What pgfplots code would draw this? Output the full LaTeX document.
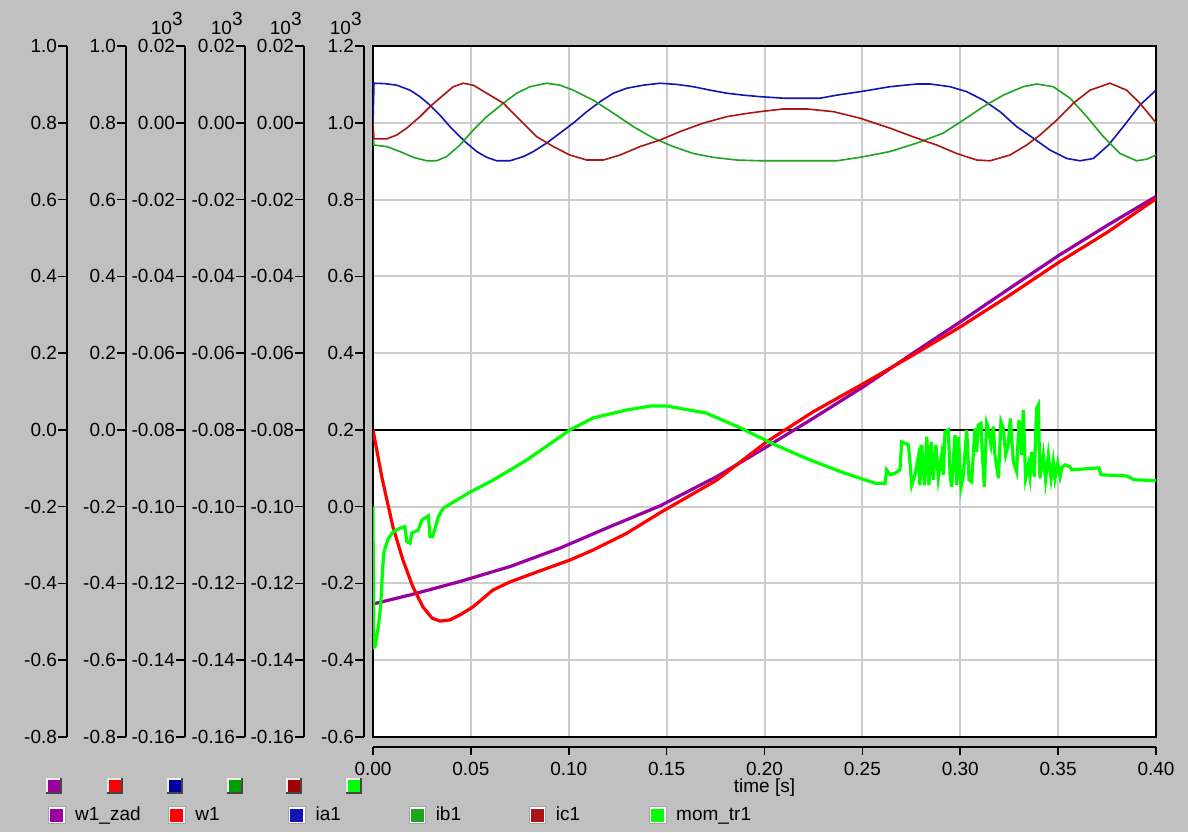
\documentclass[border=0pt]{standalone}
\usepackage{fontspec}
\setmainfont{Liberation Sans}
\usepackage{pgfplots}
\pgfplotsset{compat=1.18}

\definecolor{bg}{RGB}{192,192,192}
\definecolor{cwzad}{RGB}{153,0,160}
\definecolor{cw}{RGB}{255,0,0}
\definecolor{cia}{RGB}{20,20,180}
\definecolor{cib}{RGB}{30,165,30}
\definecolor{cic}{RGB}{170,20,20}
\definecolor{cmom}{RGB}{0,255,0}
\definecolor{sqia}{RGB}{0,0,160}
\definecolor{sqib}{RGB}{0,160,0}
\definecolor{sqic}{RGB}{160,0,0}
\definecolor{gridc}{RGB}{205,205,205}

\newcommand\lbl{\fontsize{9.5}{11}\selectfont}

% one vertical scale on the left
\pgfplotsset{
  scaleax/.style={
    scale only axis, width=1pt, height=345.5pt, anchor=south west,
    xmin=0, xmax=1, axis x line=none, axis y line=left,
    axis line style={-, black, line width=0.8pt},
    tick align=outside, major tick length=4.5pt,
    tick style={black, line width=0.8pt},
    scaled ticks=false,
    yticklabel style={font=\lbl, xshift=3pt, /pgf/number format/.cd, fixed, fixed zerofill, precision=#1, assume math mode=true},
  },
}

\begin{document}
\begin{tikzpicture}
\useasboundingbox (0,0) rectangle (594pt,416pt);
\fill[bg] (0,0) rectangle (594pt,416pt);

% left scales
\begin{axis}[scaleax=1, at={(33.5pt,47.5pt)}, ymin=-0.8, ymax=1.0,
  ytick={-0.8,-0.6,-0.4,-0.2,0,0.2,0.4,0.6,0.8,1.0}]
\end{axis}
\begin{axis}[scaleax=1, at={(63pt,47.5pt)}, ymin=-0.8, ymax=1.0,
  ytick={-0.8,-0.6,-0.4,-0.2,0,0.2,0.4,0.6,0.8,1.0}]
\end{axis}
\begin{axis}[scaleax=2, at={(92.5pt,47.5pt)}, ymin=-0.16, ymax=0.02,
  ytick={-0.16,-0.14,-0.12,-0.10,-0.08,-0.06,-0.04,-0.02,0,0.02}]
\end{axis}
\begin{axis}[scaleax=2, at={(122.5pt,47.5pt)}, ymin=-0.16, ymax=0.02,
  ytick={-0.16,-0.14,-0.12,-0.10,-0.08,-0.06,-0.04,-0.02,0,0.02}]
\end{axis}
\begin{axis}[scaleax=2, at={(152pt,47.5pt)}, ymin=-0.16, ymax=0.02,
  ytick={-0.16,-0.14,-0.12,-0.10,-0.08,-0.06,-0.04,-0.02,0,0.02}]
\end{axis}
\begin{axis}[scaleax=1, at={(182pt,47.5pt)}, ymin=-0.6, ymax=1.2,
  ytick={-0.6,-0.4,-0.2,0,0.2,0.4,0.6,0.8,1.0,1.2}]
\end{axis}

% main plot
\begin{axis}[
  at={(186.5pt,47.5pt)}, anchor=south west,
  scale only axis, width=391.5pt, height=345.5pt,
  xmin=0, xmax=0.4, ymin=-0.6, ymax=1.2,
  axis background/.style={fill=white},
  xtick={0,0.05,0.1,0.15,0.2,0.25,0.3,0.35,0.4},
  ytick={-0.6,-0.4,-0.2,0,0.2,0.4,0.6,0.8,1.0,1.2},
  xticklabels={}, yticklabels={},
  major tick length=0pt,
  grid=major, grid style={gridc, line width=1pt},
  axis line style={black, line width=1pt},
  extra y ticks={0.2}, extra y tick labels={},
  extra y tick style={grid style={black, line width=0.8pt}},
  legend columns=6, legend cell align=left,
  legend style={at={(-0.4151,-0.1129)}, anchor=west, draw=none, fill=none,
    inner sep=0pt, outer sep=0pt, font=\lbl, /tikz/column sep=0pt,
    nodes={inner sep=0pt, outer sep=0pt}},
  legend image code/.code={
    \fill[#1] (0.5pt,-3.25pt) rectangle (7pt,3.25pt);
    \draw[white, line width=0.8pt] (0.1pt,-3.65pt) rectangle (7.4pt,3.65pt);
    \draw[gray!70, line width=0.3pt] (-0.4pt,-4.15pt) rectangle (7.9pt,4.15pt);
  },
]
\addplot[color=cwzad, line width=1.6pt] coordinates {
(0,-0.2535)(0.0189,-0.230)(0.0444,-0.195)(0.07,-0.156)(0.0955,-0.108)
(0.1211,-0.052)(0.1466,0.002)(0.1755,0.078)(0.2011,0.156)(0.2248,0.230)
(0.2507,0.313)(0.2759,0.400)(0.3002,0.482)(0.3253,0.569)(0.3508,0.656)
(0.3755,0.734)(0.4,0.808)};
\addlegendentry{\hspace{5pt}\makebox[46.5pt][l]{w1\_zad}}
\addplot[color=cw, line width=1.6pt] coordinates {
(0,0.2)(0.0046,0.075)(0.0102,-0.053)(0.0153,-0.139)(0.0204,-0.209)
(0.0255,-0.261)(0.0301,-0.290)(0.0342,-0.298)(0.0393,-0.295)(0.0444,-0.282)
(0.0511,-0.261)(0.0613,-0.217)(0.07,-0.196)(0.0838,-0.170)(0.1006,-0.139)
(0.1124,-0.113)(0.1297,-0.069)(0.1466,-0.016)(0.1755,0.069)(0.2011,0.169)
(0.2248,0.247)(0.2507,0.321)(0.2759,0.395)(0.3002,0.469)(0.3253,0.551)
(0.3508,0.638)(0.3755,0.716)(0.4,0.802)};
\addlegendentry{\hspace{5pt}\makebox[46.5pt][l]{w1}}
\addplot[color=cia, line width=0.8pt] coordinates {
(0,1.0)(0.0005,1.103)(0.006,1.102)(0.0121,1.098)(0.0189,1.085)(0.024,1.068)
(0.0291,1.046)(0.0342,1.020)(0.0393,0.990)(0.0444,0.964)(0.0479,0.947)
(0.053,0.925)(0.0581,0.910)(0.0632,0.901)(0.07,0.901)(0.0768,0.912)
(0.0819,0.925)(0.0887,0.947)(0.0955,0.973)(0.1023,0.999)(0.1092,1.029)
(0.116,1.055)(0.1228,1.077)(0.1296,1.090)(0.1381,1.098)(0.1466,1.103)
(0.1551,1.100)(0.1636,1.094)(0.1722,1.085)(0.1807,1.077)(0.1892,1.072)
(0.1977,1.068)(0.2100,1.064)(0.2284,1.064)(0.2369,1.072)(0.2488,1.081)
(0.2641,1.094)(0.2778,1.101)(0.2846,1.101)(0.2948,1.094)(0.3033,1.081)
(0.3118,1.059)(0.3203,1.029)(0.3288,0.990)(0.3373,0.960)(0.3458,0.929)
(0.3544,0.907)(0.3612,0.901)(0.368,0.907)(0.3757,0.942)(0.3833,0.990)
(0.3918,1.046)(0.4,1.085)};
\addlegendentry{\hspace{5pt}\makebox[46.5pt][l]{ia1}}
\addplot[color=cib, line width=0.8pt] coordinates {
(0,0.973)(0.0005,0.942)(0.007,0.938)(0.0138,0.925)(0.0206,0.910)(0.0274,0.901)
(0.0325,0.901)(0.0376,0.912)(0.0444,0.942)(0.0512,0.981)(0.0581,1.016)
(0.0666,1.051)(0.0734,1.077)(0.0802,1.094)(0.0887,1.103)(0.0955,1.098)
(0.1023,1.085)(0.1125,1.059)(0.1228,1.025)(0.133,0.990)(0.1432,0.960)
(0.1534,0.938)(0.1636,0.920)(0.1738,0.910)(0.1858,0.903)(0.1977,0.901)
(0.2369,0.901)(0.2488,0.910)(0.2641,0.925)(0.2778,0.947)(0.2913,0.973)
(0.3016,1.007)(0.3118,1.042)(0.322,1.072)(0.3322,1.094)(0.339,1.101)
(0.3475,1.094)(0.3561,1.064)(0.3646,1.016)(0.3731,0.964)(0.3816,0.920)
(0.3901,0.901)(0.3952,0.905)(0.4,0.916)};
\addlegendentry{\hspace{5pt}\makebox[46.5pt][l]{ib1}}
\addplot[color=cic, line width=0.8pt] coordinates {
(0,0.999)(0.0005,0.958)(0.007,0.958)(0.0121,0.968)(0.0172,0.986)(0.024,1.016)
(0.0291,1.042)(0.0359,1.072)(0.041,1.094)(0.0461,1.103)(0.0512,1.098)
(0.0581,1.077)(0.0666,1.051)(0.0751,1.007)(0.0836,0.964)(0.0921,0.938)
(0.1006,0.916)(0.1092,0.903)(0.1177,0.903)(0.1262,0.916)(0.1364,0.938)
(0.1466,0.955)(0.1568,0.977)(0.1687,0.999)(0.1807,1.016)(0.1892,1.023)
(0.1977,1.029)(0.2096,1.036)(0.2216,1.036)(0.2352,1.029)(0.2488,1.012)
(0.2641,0.986)(0.2778,0.960)(0.288,0.942)(0.2982,0.920)(0.3084,0.903)
(0.3152,0.901)(0.3254,0.916)(0.3339,0.942)(0.3407,0.968)(0.3493,1.007)
(0.3578,1.051)(0.3663,1.085)(0.3765,1.103)(0.385,1.085)(0.3918,1.051)
(0.4,1.0)};
\addlegendentry{\hspace{5pt}\makebox[46.5pt][l]{ic1}}
\addplot[color=cmom, line width=1.6pt] coordinates {
(0,0.0)(0.0003,-0.366)(0.001,-0.365)(0.0027,-0.313)(0.0039,-0.260)
(0.005,-0.156)(0.0056,-0.117)(0.0078,-0.083)(0.0104,-0.065)(0.0138,-0.056)
(0.0163,-0.052)(0.0172,-0.091)(0.0189,-0.095)(0.0198,-0.069)(0.0231,-0.061)
(0.0249,-0.035)(0.0283,-0.024)(0.0291,-0.078)(0.0305,-0.078)(0.0334,-0.026)
(0.0359,-0.004)(0.0496,0.038)(0.0613,0.069)(0.0787,0.122)(0.1006,0.200)
(0.1124,0.231)(0.1297,0.252)(0.1415,0.262)(0.1502,0.262)(0.1701,0.244)
(0.1878,0.205)(0.2054,0.161)(0.2231,0.122)(0.2406,0.088)(0.2565,0.061)
(0.2616,0.061)(0.2624,0.096)(0.2641,0.083)(0.2667,0.087)(0.2692,0.096)
(0.2701,0.169)(0.2735,0.161)(0.2743,0.117)(0.2752,0.056)(0.2769,0.083)
(0.2786,0.130)(0.2794,0.056)(0.2803,0.161)(0.2817,0.056)(0.2829,0.182)
(0.2840,0.056)(0.2851,0.169)(0.2862,0.070)(0.2876,0.161)(0.2888,0.074)
(0.2905,0.135)(0.2914,0.083)(0.2922,0.195)(0.2939,0.200)(0.2948,0.083)
(0.2956,0.052)(0.2973,0.187)(0.2982,0.056)(0.2990,0.182)(0.3004,0.052)
(0.3016,0.083)(0.3033,0.200)(0.3045,0.070)(0.3058,0.065)(0.3075,0.204)
(0.3084,0.143)(0.3092,0.213)(0.3106,0.217)(0.3113,0.135)(0.3123,0.052)
(0.3135,0.217)(0.3143,0.204)(0.3157,0.161)(0.3169,0.209)(0.3177,0.135)
(0.3195,0.074)(0.3208,0.221)(0.3220,0.204)(0.3232,0.135)(0.3245,0.161)
(0.3256,0.230)(0.3271,0.117)(0.3288,0.091)(0.3300,0.226)(0.3314,0.135)
(0.3322,0.252)(0.3334,0.074)(0.3348,0.109)(0.3356,0.078)(0.3365,0.143)
(0.3378,0.078)(0.3390,0.256)(0.3399,0.265)(0.3407,0.074)(0.3424,0.135)
(0.3436,0.070)(0.3450,0.135)(0.3464,0.074)(0.3475,0.117)(0.3484,0.074)
(0.3498,0.113)(0.3510,0.078)(0.3521,0.104)(0.3535,0.109)(0.3561,0.104)
(0.3569,0.096)(0.3709,0.101)(0.3719,0.083)(0.3852,0.080)(0.3888,0.070)
(0.4,0.068)};
\addlegendentry{\hspace{5pt}\makebox[46.5pt][l]{mom\_tr1}}
\end{axis}

% time scale under the plot
\begin{axis}[
  at={(186.5pt,42.5pt)}, anchor=south west,
  scale only axis, width=391.5pt, height=1pt,
  xmin=0, xmax=0.4, ymin=0, ymax=1,
  axis y line=none, axis x line=bottom,
  axis line style={-, black, line width=0.8pt},
  tick align=outside, major tick length=4pt,
  tick style={black, line width=0.8pt},
  scaled ticks=false,
  xtick={0,0.05,0.1,0.15,0.2,0.25,0.3,0.35,0.4},
  xticklabel style={font=\lbl, /pgf/number format/.cd, fixed, fixed zerofill, precision=2, assume math mode=true},
  xlabel={time [s]}, xlabel style={font=\lbl, yshift=5.5pt},
]
\end{axis}

% scale colour buttons
\foreach \cx/\cc in {27/cwzad, 57.5/cw, 87.5/sqia, 117.5/sqib, 147/sqic, 177/cmom} {
  \fill[gray!55!black] (\cx pt-4pt,19pt) rectangle (\cx pt+4pt,27pt);
  \fill[white!85!gray] (\cx pt-4pt,19.8pt) rectangle (\cx pt+3.2pt,27pt);
  \fill[\cc] (\cx pt-3pt,20pt) rectangle (\cx pt+3pt,26pt);
}

% exponent marks
\foreach \ex in {91.5,121.5,151,181} {
  \node[anchor=base east, inner sep=0pt, font=\lbl] at (\ex pt,398.5pt) {10\raisebox{4.5pt}{3}};
}
\end{tikzpicture}
\end{document}
